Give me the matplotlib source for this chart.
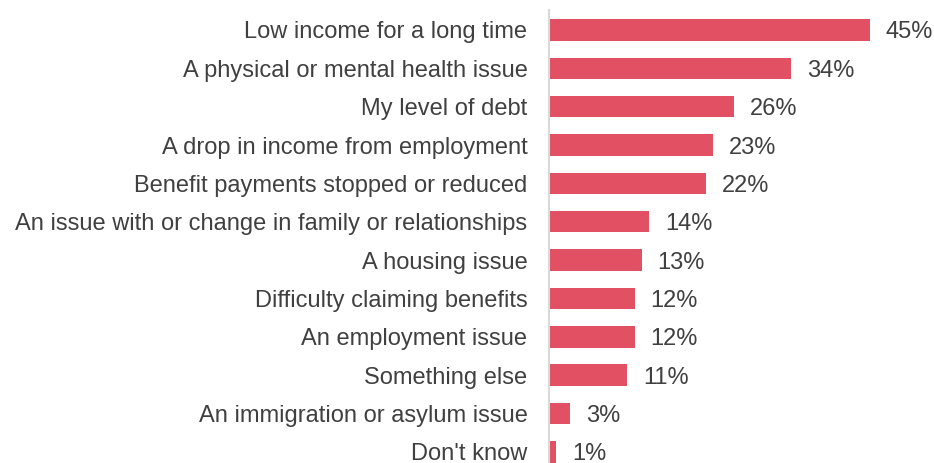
import matplotlib
matplotlib.use("Agg")
import matplotlib.pyplot as plt

categories = [
    "Low income for a long time",
    "A physical or mental health issue",
    "My level of debt",
    "A drop in income from employment",
    "Benefit payments stopped or reduced",
    "An issue with or change in family or relationships",
    "A housing issue",
    "Difficulty claiming benefits",
    "An employment issue",
    "Something else",
    "An immigration or asylum issue",
    "Don't know",
]
values = [45, 34, 26, 23, 22, 14, 13, 12, 12, 11, 3, 1]

plt.rcParams['font.family'] = ['Liberation Sans', 'DejaVu Sans']

fig = plt.figure(figsize=(9.34, 4.63), dpi=100)
ax = fig.add_axes([549/934, 0, 1 - 549/934, 1 - 10/463])

y = list(range(len(categories)))
ax.barh(y, values, height=0.56, color='#E25063', edgecolor='none')
ax.set_ylim(11.29, -0.52)
ax.set_xlim(0, 54)
ax.set_yticks(y)
ax.set_yticklabels(categories, fontsize=17, color='#404040')
ax.tick_params(axis='y', length=0, pad=15.5)
ax.set_xticks([])
for s in ['top', 'right', 'bottom']:
    ax.spines[s].set_visible(False)
ax.spines['left'].set_color('#D9D9D9')
ax.spines['left'].set_linewidth(1.5)

for yi, v in zip(y, values):
    ax.annotate(f"{v}%", (v, yi), xytext=(16, 0), textcoords='offset pixels',
                va='center_baseline', ha='left', fontsize=17, color='#404040')

fig.savefig('out.png', dpi=100)
